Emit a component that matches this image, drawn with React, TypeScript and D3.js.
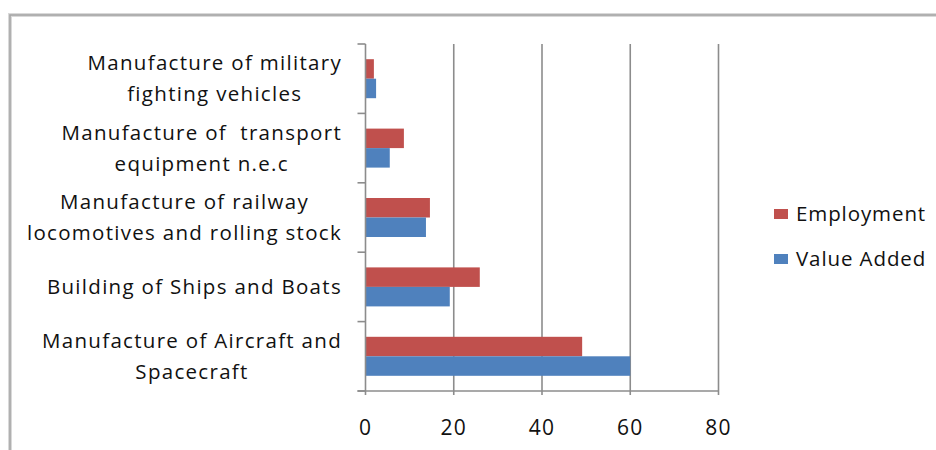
import React, { useEffect, useRef } from "react";
import * as d3 from "d3";

const categories: string[][] = [
  ["Manufacture of military", "fighting vehicles"],
  ["Manufacture of  transport", "equipment n.e.c"],
  ["Manufacture of railway", "locomotives and rolling stock"],
  ["Building of Ships and Boats"],
  ["Manufacture of Aircraft and", "Spacecraft"],
];
const employment: number[] = [1.9, 8.7, 14.6, 25.9, 49.1];
const valueAdded: number[] = [2.4, 5.5, 13.7, 19.1, 60.0];
const seriesNames: string[] = ["Employment", "Value Added"];
const xTicks: number[] = [0, 20, 40, 60, 80];

const W = 936;
const H = 450;
const FONT = "'Open Sans', 'Noto Sans', sans-serif";
const COLORS = ["#C0504D", "#4F81BD"];

export default function App() {
  const ref = useRef<SVGSVGElement | null>(null);

  useEffect(() => {
    const svg = d3.select(ref.current);
    svg.selectAll("*").remove();

    const left = 365.5, right = 718.5, top = 44, bottom = 391;
    const x = d3.scaleLinear().domain([0, 80]).range([left, right]);
    const y = d3
      .scaleBand<number>()
      .domain(d3.range(categories.length))
      .range([top, bottom])
      .paddingInner(0)
      .paddingOuter(0);
    const groupFrac = 39 / 69.4;
    const inner = d3
      .scaleBand<number>()
      .domain([0, 1])
      .range([0, y.bandwidth() * groupFrac]);

    // chart frame
    svg
      .append("rect")
      .attr("x", 10)
      .attr("y", 15)
      .attr("width", W + 20)
      .attr("height", H + 20)
      .attr("fill", "none")
      .attr("stroke", "#d9d9d9")
      .attr("stroke-width", 4);
    svg
      .append("rect")
      .attr("x", 10)
      .attr("y", 15)
      .attr("width", W + 20)
      .attr("height", H + 20)
      .attr("fill", "none")
      .attr("stroke", "#a6a6a6")
      .attr("stroke-width", 1.6);

    // gridlines
    svg
      .append("g")
      .selectAll("line")
      .data(xTicks.filter((t) => t > 0))
      .join("line")
      .attr("x1", (d) => x(d))
      .attr("x2", (d) => x(d))
      .attr("y1", top)
      .attr("y2", bottom + 4)
      .attr("stroke", "#8c8c8c")
      .attr("stroke-width", 1.6);

    // bars
    const groupOffset = (y.bandwidth() - y.bandwidth() * groupFrac) / 2;
    [employment, valueAdded].forEach((vals, si) => {
      svg
        .append("g")
        .selectAll("rect")
        .data(vals)
        .join("rect")
        .attr("x", x(0))
        .attr("y", (_, i) => (y(i) as number) + groupOffset + (inner(si) as number))
        .attr("width", (d) => x(d) - x(0))
        .attr("height", inner.bandwidth())
        .attr("fill", COLORS[si]);
    });

    // axes lines
    svg
      .append("line")
      .attr("x1", left)
      .attr("x2", left)
      .attr("y1", top)
      .attr("y2", bottom + 4)
      .attr("stroke", "#8c8c8c")
      .attr("stroke-width", 1.6);
    svg
      .append("line")
      .attr("x1", left - 8)
      .attr("x2", right)
      .attr("y1", bottom)
      .attr("y2", bottom)
      .attr("stroke", "#8c8c8c")
      .attr("stroke-width", 1.6);
    // category ticks
    svg
      .append("g")
      .selectAll("line")
      .data(d3.range(categories.length + 1))
      .join("line")
      .attr("x1", left - 8)
      .attr("x2", left)
      .attr("y1", (i) => top + i * y.bandwidth())
      .attr("y2", (i) => top + i * y.bandwidth())
      .attr("stroke", "#8c8c8c")
      .attr("stroke-width", 1.6);

    // x tick labels
    svg
      .append("g")
      .selectAll("text")
      .data(xTicks)
      .join("text")
      .attr("x", (d) => x(d))
      .attr("y", 435)
      .attr("text-anchor", "middle")
      .attr("font-family", FONT)
      .attr("font-size", 21)
      .attr("letter-spacing", 1.2)
      .attr("fill", "#111")
      .text((d) => String(d));

    // category labels
    const labelRight = 342;
    const lineGap = 31;
    categories.forEach((lines, i) => {
      const cy = (y(i) as number) + y.bandwidth() / 2;
      const g = svg.append("g");
      const texts = lines.map((ln, li) =>
        g
          .append("text")
          .attr("y", cy + (li - (lines.length - 1) / 2) * lineGap)
          .attr("dy", "0.35em")
          .attr("text-anchor", "middle")
          .attr("font-family", FONT)
          .attr("font-size", 20.5)
          .attr("letter-spacing", 1.3)
          .attr("fill", "#111")
          .style("white-space", "pre")
          .text(ln)
      );
      const widths = texts.map((t) => (t.node() as SVGTextElement).getComputedTextLength());
      const maxW = Math.max(...widths);
      texts.forEach((t) => t.attr("x", labelRight - maxW / 2));
    });

    // legend
    const legY = [214, 259];
    seriesNames.forEach((name, i) => {
      svg
        .append("rect")
        .attr("x", 774)
        .attr("y", legY[i] - 5)
        .attr("width", 14)
        .attr("height", 10)
        .attr("fill", COLORS[i]);
      svg
        .append("text")
        .attr("x", 796)
        .attr("y", legY[i])
        .attr("dy", "0.35em")
        .attr("font-family", FONT)
        .attr("font-size", 20.5)
        .attr("letter-spacing", 0.9)
        .attr("fill", "#111")
        .text(name);
    });
  }, []);

  return (
    <svg
      ref={ref}
      width={W}
      height={H}
      style={{ position: "absolute", left: 0, top: 0, background: "#fff" }}
    />
  );
}
